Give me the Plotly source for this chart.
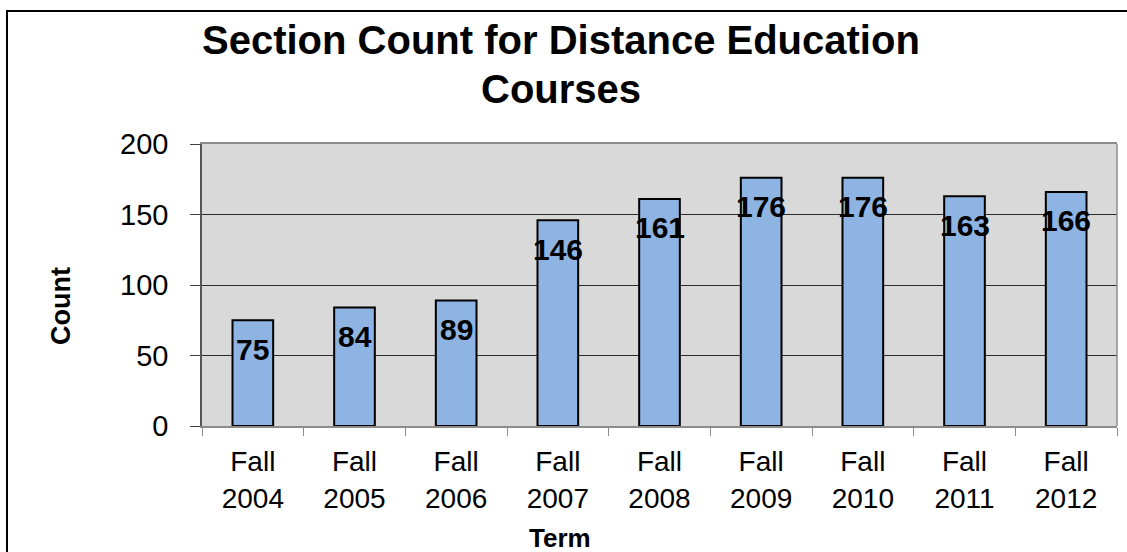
import plotly.graph_objects as go

terms = ["Fall<br>2004", "Fall<br>2005", "Fall<br>2006", "Fall<br>2007", "Fall<br>2008",
         "Fall<br>2009", "Fall<br>2010", "Fall<br>2011", "Fall<br>2012"]
counts = [75, 84, 89, 146, 161, 176, 176, 163, 166]
y_ticks = [0, 50, 100, 150, 200]
title_lines = ["Section Count for Distance Education", "Courses"]

W, H = 1127, 552
L, R, T, B = 202, 10, 144, 126
pw, ph = W - L - R, H - T - B

def px_x(p):
    return (p - L) / pw

def px_y(p):
    return (H - B - p) / ph

FONT = "Liberation Sans, Arial"

fig = go.Figure()
fig.add_trace(go.Bar(
    x=terms, y=counts,
    marker=dict(color="#8EB4E3", line=dict(color="black", width=2)),
    width=0.4,
    hoverinfo="x+y",
))

for t, c in zip(terms, counts):
    fig.add_annotation(x=t, y=c, text=str(c), showarrow=False, yanchor="middle",
                       yshift=-29, font=dict(family=FONT, size=30, color="black", weight="bold"))

for line, yc in zip(title_lines, [40, 89]):
    fig.add_annotation(xref="paper", yref="paper", x=px_x(561), y=px_y(yc),
                       text="<b>" + line + "</b>",
                       showarrow=False, xanchor="center", yanchor="middle",
                       font=dict(family=FONT, size=40, color="black"))
fig.add_annotation(xref="paper", yref="paper", x=px_x(560), y=px_y(538), text="<b>Term</b>",
                   showarrow=False, xanchor="center", yanchor="middle",
                   font=dict(family=FONT, size=26, color="black"))
fig.add_annotation(xref="paper", yref="paper", x=px_x(61), y=px_y(306), text="<b>Count</b>",
                   showarrow=False, xanchor="center", yanchor="middle", textangle=-90,
                   font=dict(family=FONT, size=27, color="black"))

# outer chart border (extends past the visible window on right/bottom)
fig.add_shape(type="rect", xref="paper", yref="paper",
              x0=px_x(7), y0=px_y(11), x1=px_x(1140), y1=px_y(570),
              line=dict(color="black", width=2), layer="below")
# right edge of plot area
fig.add_shape(type="line", xref="paper", yref="paper", x0=1, x1=1, y0=0, y1=1,
              line=dict(color="#8c8c8c", width=1.5))

fig.update_layout(
    width=W, height=H,
    margin=dict(l=L, r=R, t=T, b=B),
    paper_bgcolor="white",
    plot_bgcolor="#D9D9D9",
    showlegend=False,
    font=dict(family=FONT, color="black"),
)
fig.update_xaxes(
    showgrid=False, tickson="boundaries", ticks="outside", ticklen=8, tickcolor="#8c8c8c",
    showline=True, linecolor="#8c8c8c", linewidth=1.5, mirror=True,
    tickfont=dict(size=28, color="black"), ticklabelstandoff=10,
)
fig.update_yaxes(
    range=[0, 200], tickvals=y_ticks, ticks="outside", ticklen=10, tickcolor="#404040",
    showgrid=True, gridcolor="#2b2b2b", gridwidth=1,
    showline=True, linecolor="#555555", linewidth=1.5, zeroline=False,
    tickfont=dict(size=29, color="black"), ticklabelstandoff=16,
)

fig.write_html("out.html", config={"displayModeBar": False},
               post_script="document.body.style.margin='0';")
